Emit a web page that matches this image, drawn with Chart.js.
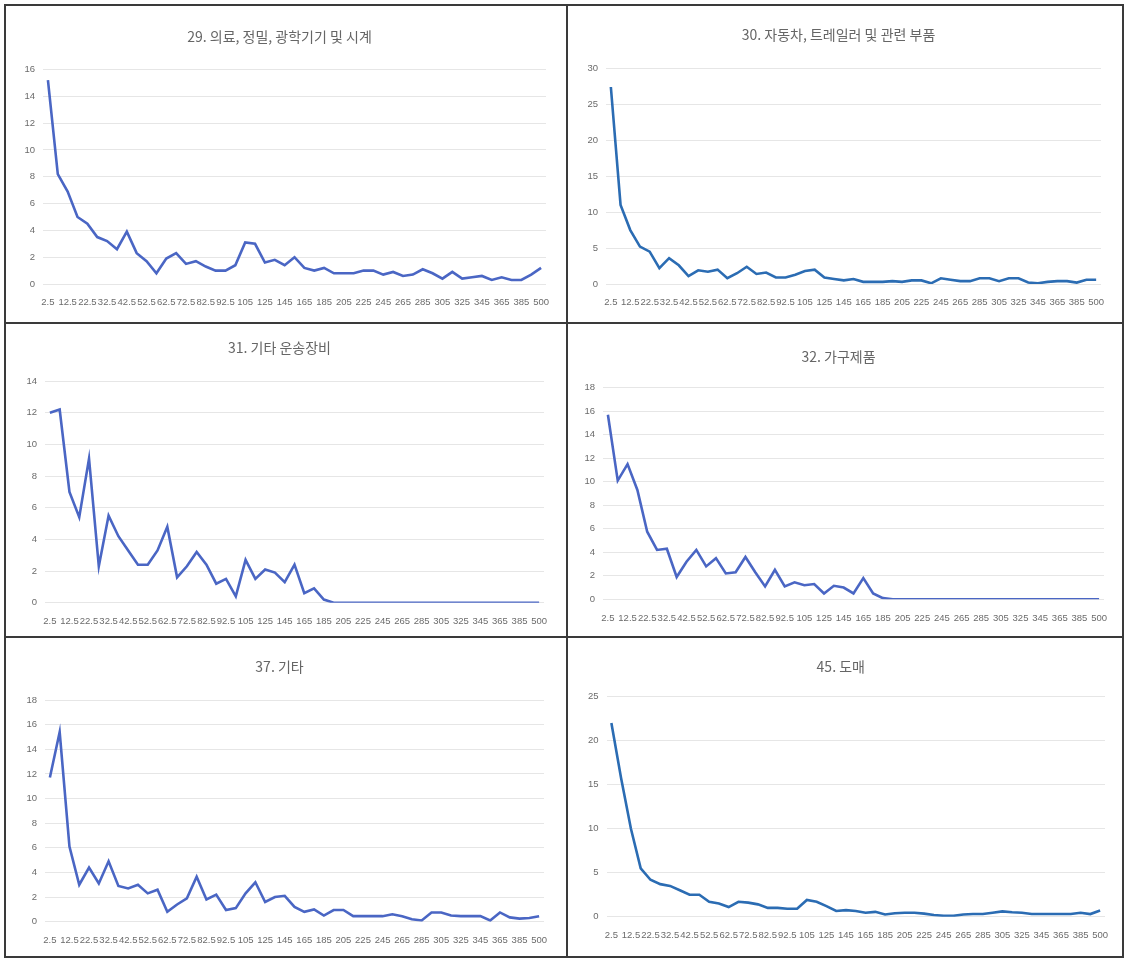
<!DOCTYPE html>
<html>
<head>
<meta charset="utf-8">
<title>업종별 분포</title>
<script src="https://cdn.jsdelivr.net/npm/chart.js@4.4.1/dist/chart.umd.min.js"></script>
<style>
  body { margin: 0; background: #fff; }
  #page { position: relative; width: 1125px; height: 959px; overflow: hidden; }
  .line { position: absolute; background: #3a3a3a; }
  canvas { position: absolute; }
</style>
</head>
<body>
<div id="page">
  <div class="line" style="left:4px;top:4px;width:1120px;height:2px"></div>
  <div class="line" style="left:4px;top:956px;width:1120px;height:2px"></div>
  <div class="line" style="left:4px;top:4px;width:2px;height:954px"></div>
  <div class="line" style="left:1122px;top:4px;width:2px;height:954px"></div>
  <div class="line" style="left:566px;top:4px;width:2px;height:954px"></div>
  <div class="line" style="left:4px;top:322px;width:1120px;height:2px"></div>
  <div class="line" style="left:4px;top:636px;width:1120px;height:2px"></div>
</div>
<script>
// category labels (size classes)
const sizes = ['2.5','7.5','12.5','17.5','22.5','27.5','32.5','37.5','42.5','47.5',
  '52.5','57.5','62.5','67.5','72.5','77.5','82.5','87.5','92.5','97.5',
  '105','115','125','135','145','155','165','175','185','195',
  '205','215','225','235','245','255','265','275','285','295',
  '305','315','325','335','345','355','365','375','385','395','500'];

const titles = ['29. 의료, 정밀, 광학기기 및 시계', '30. 자동차, 트레일러 및 관련 부품',
  '31. 기타 운송장비', '32. 가구제품', '37. 기타', '45. 도매'];

const s29 = [15.2,8.2,6.9,5.0,4.5,3.5,3.2,2.6,3.9,2.3, 1.7,0.8,1.9,2.3,1.5,1.7,1.3,1.0,1.0,1.4,
  3.1,3.0,1.6,1.8,1.4,2.0,1.2,1.0,1.2,0.8, 0.8,0.8,1.0,1.0,0.7,0.9,0.6,0.7,1.1,0.8,
  0.4,0.9,0.4,0.5,0.6,0.3,0.5,0.3,0.3,0.7, 1.2];
const s30 = [27.4,11.0,7.5,5.2,4.5,2.2,3.6,2.6,1.1,1.9, 1.7,2.0,0.8,1.5,2.4,1.4,1.6,0.9,0.9,1.3,
  1.8,2.0,0.9,0.7,0.5,0.7,0.3,0.3,0.3,0.4, 0.3,0.5,0.5,0.1,0.8,0.6,0.4,0.4,0.8,0.8,
  0.4,0.8,0.8,0.2,0.1,0.3,0.4,0.4,0.2,0.6, 0.6];
const s31 = [12.0,12.2,7.0,5.4,9.1,2.3,5.5,4.2,3.3,2.4, 2.4,3.3,4.8,1.6,2.3,3.2,2.4,1.2,1.5,0.4,
  2.7,1.5,2.1,1.9,1.3,2.4,0.6,0.9,0.2,0, 0,0,0,0,0,0,0,0,0,0,
  0,0,0,0,0,0,0,0,0,0, 0];
const s32 = [15.7,10.1,11.5,9.3,5.75,4.2,4.3,1.9,3.2,4.2, 2.8,3.5,2.2,2.3,3.6,2.3,1.1,2.5,1.1,1.45,
  1.2,1.3,0.5,1.15,1.0,0.5,1.8,0.5,0.1,0, 0,0,0,0,0,0,0,0,0,0,
  0,0,0,0,0,0,0,0,0,0, 0];
const s37 = [11.7,15.4,6.1,3.0,4.4,3.1,4.9,2.9,2.7,3.0, 2.3,2.6,0.8,1.4,1.9,3.65,1.8,2.2,0.95,1.1,
  2.3,3.2,1.6,2.0,2.1,1.2,0.8,1.0,0.5,0.95, 0.95,0.45,0.45,0.45,0.45,0.6,0.45,0.2,0.1,0.75,
  0.75,0.5,0.45,0.45,0.45,0.1,0.75,0.35,0.25,0.3, 0.45];
const s45 = [22.0,15.7,10.0,5.5,4.2,3.7,3.5,3.0,2.5,2.5, 1.7,1.5,1.1,1.7,1.6,1.4,1.0,1.0,0.9,0.9,
  1.9,1.7,1.2,0.65,0.75,0.65,0.45,0.55,0.25,0.4, 0.45,0.45,0.35,0.2,0.1,0.1,0.25,0.3,0.3,0.45,
  0.6,0.5,0.45,0.3,0.3,0.3,0.3,0.3,0.45,0.3, 0.7];

const series = [s29, s30, s31, s32, s37, s45];
const yMax = [16, 30, 14, 18, 18, 25];
const yStep = [2, 5, 2, 2, 2, 5];

// layout: canvas box [left, top, w, h], plot area [L, T, R, B], title centre y (page px)
const boxes = [[6,6,560,316],[568,6,554,316],[6,324,560,312],[568,324,554,312],[6,638,560,318],[568,638,554,318]];
const plots = [[43,69.5,546,284],[606,68.3,1101,284],[45,381,544,602.7],[603,387.7,1104,599.3],[45,700,544,921.7],[606.5,696.7,1105,916.7]];
const titleY = [37,35,348,356.7,667,667];
const colors = ['#4a66c4','#2b6cb3','#4a66c4','#4a66c4','#4a66c4','#2b6cb3'];

const Y_W = 30, X_H = 26, T_SIZE = 14, T_LH = T_SIZE * 1.2;

const page = document.getElementById('page');
for (let i = 0; i < 6; i++) {
  const b = boxes[i], p = plots[i];
  const cv = document.createElement('canvas');
  cv.width = b[2]; cv.height = b[3];
  cv.style.left = b[0] + 'px'; cv.style.top = b[1] + 'px';
  page.appendChild(cv);
  const padTop = titleY[i] - b[1] - T_LH / 2;
  const padBottom = p[1] - b[1] - padTop - T_LH;
  new Chart(cv.getContext('2d'), {
    type: 'line',
    data: {
      labels: sizes,
      datasets: [{
        data: series[i],
        borderColor: colors[i],
        borderWidth: 2.6,
        pointRadius: 0,
        tension: 0,
        fill: false
      }]
    },
    options: {
      responsive: false,
      animation: false,
      devicePixelRatio: 1,
      layout: {
        padding: {
          left: p[0] - b[0] - Y_W,
          right: b[0] + b[2] - p[2],
          top: 0,
          bottom: b[1] + b[3] - p[3] - X_H
        }
      },
      plugins: {
        legend: { display: false },
        tooltip: { enabled: false },
        title: {
          display: true,
          text: titles[i],
          color: '#666',
          font: { family: '"Noto Sans CJK KR", "Noto Sans", sans-serif', size: T_SIZE, weight: 'normal', lineHeight: 1.2 },
          padding: { top: padTop, bottom: padBottom }
        }
      },
      scales: {
        x: {
          offset: true,
          grid: { display: false, drawTicks: false },
          border: { display: false },
          afterFit: (s) => { s.height = X_H; },
          ticks: {
            autoSkip: false,
            maxRotation: 0,
            minRotation: 0,
            padding: 13,
            color: '#6b6b6b',
            font: { family: '"Liberation Sans", sans-serif', size: 9.5 },
            callback: function (v, idx) { return idx % 2 === 0 ? sizes[idx] : ''; }
          }
        },
        y: {
          min: 0,
          max: yMax[i],
          grid: { color: '#e6e6e6', lineWidth: 1, drawTicks: false },
          border: { display: false },
          afterFit: (s) => { s.width = Y_W; },
          ticks: {
            stepSize: yStep[i],
            padding: 8,
            color: '#6b6b6b',
            font: { family: '"Liberation Sans", sans-serif', size: 9.5 }
          }
        }
      }
    }
  });
}
</script>
</body>
</html>
